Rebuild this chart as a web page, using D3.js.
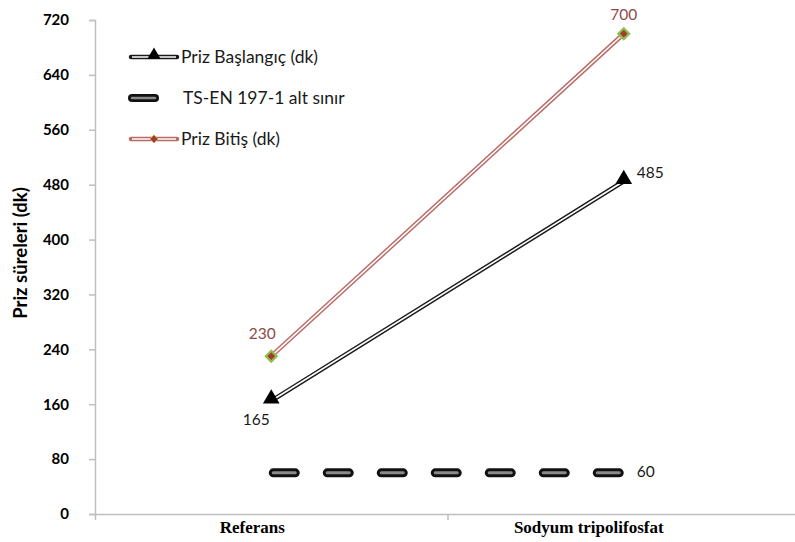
<!DOCTYPE html>
<html>
<head>
<meta charset="utf-8">
<script src="https://cdn.jsdelivr.net/npm/d3@7"></script>
<style>
  html, body { margin: 0; padding: 0; background: #fff; }
  svg { display: block; }
</style>
</head>
<body>
<svg id="chart" width="795" height="542"></svg>
<script>
// Setting time data (minutes)
const categories = ["Referans", "Sodyum tripolifosfat"];
const baslangic = [165, 485];          // Priz Başlangıç (dk)
const bitis = [230, 700];              // Priz Bitiş (dk)
const altSinir = [60, 60];             // TS-EN 197-1 alt sınır
const yTicks = [0, 80, 160, 240, 320, 400, 480, 560, 640, 720];
const seriesNames = ["Priz Başlangıç (dk)", "TS-EN 197-1 alt sınır", "Priz Bitiş (dk)"];
const yTitle = "Priz süreleri (dk)";

const svg = d3.select("#chart");
const plotLeft = 95, plotRight = 800, plotTop = 20, plotBottom = 514;

const x = d3.scalePoint().domain(categories).range([plotLeft, plotRight]).padding(0.5);
const y = d3.scaleLinear().domain([0, 720]).range([plotBottom, plotTop]);

const labelFont = "Lato, 'Open Sans', sans-serif";

// Y axis
const yAxis = svg.append("g")
  .attr("transform", `translate(${plotLeft},0)`)
  .call(d3.axisLeft(y).tickValues(yTicks).tickSize(6).tickPadding(20));
yAxis.select(".domain").attr("stroke", "#bfbfbf").attr("stroke-width", 1.5);
yAxis.selectAll(".tick line").attr("stroke", "#bfbfbf").attr("stroke-width", 1.5);
yAxis.selectAll(".tick text")
  .attr("font-family", labelFont).attr("font-weight", "bold")
  .attr("font-size", 15).attr("fill", "#000");

// X axis: baseline with a divider tick between categories
const xb = d3.scaleLinear().domain([0, categories.length]).range([plotLeft, plotRight]);
const xAxis = svg.append("g")
  .attr("transform", `translate(0,${plotBottom})`)
  .call(d3.axisBottom(xb).tickValues(d3.range(1, categories.length)).tickSize(6).tickFormat(""));
xAxis.select(".domain").attr("stroke", "#bfbfbf").attr("stroke-width", 1.5);
xAxis.selectAll(".tick line").attr("stroke", "#bfbfbf").attr("stroke-width", 1.5);

// Category labels
const catShift = [-19, -35];
svg.append("g").selectAll("text").data(categories).join("text")
  .attr("x", (d, i) => x(d) + catShift[i])
  .attr("y", 533)
  .attr("text-anchor", "middle")
  .attr("font-family", "'Liberation Serif', 'Times New Roman', serif")
  .attr("font-weight", "bold").attr("font-size", 17)
  .text(d => d);

// Y title
svg.append("text")
  .attr("transform", `translate(27,${(plotTop + plotBottom) / 2 - 14}) rotate(-90)`)
  .attr("text-anchor", "middle")
  .attr("font-family", labelFont).attr("font-weight", "bold").attr("font-size", 18.5)
  .text(yTitle);

const line = d3.line().x((d, i) => x(categories[i])).y(d => y(d));

// Lower limit: thick rounded dashes with a grey core
const limitPts = [[x(categories[0]) - 2, y(altSinir[0])], [x(categories[1]) - 4, y(altSinir[1])]];
[["#111", 9], ["#8a8a8a", 3]].forEach(([c, w]) => {
  svg.append("path").attr("d", d3.line()(limitPts))
    .attr("stroke", c).attr("stroke-width", w).attr("fill", "none")
    .attr("stroke-linecap", "round").attr("stroke-dasharray", "22 32")
    .attr("transform", "translate(4,0)");
});

// Double-stroke series lines
function doubleLine(data, outer) {
  svg.append("path").datum(data).attr("d", line)
    .attr("stroke", outer).attr("stroke-width", 4.5).attr("fill", "none");
  svg.append("path").datum(data).attr("d", line)
    .attr("stroke", "#fff").attr("stroke-width", 1.6).attr("fill", "none");
}
doubleLine(baslangic, "#1a1a1a");
doubleLine(bitis, "#b86a66");

// Markers
const tri = d3.symbol().type(d3.symbolTriangle).size(120);
svg.append("g").selectAll("path").data(baslangic).join("path")
  .attr("d", tri)
  .attr("transform", (d, i) => `translate(${x(categories[i])},${y(d) - 2})`)
  .attr("fill", "#000");

const dia = d3.symbol().type(d3.symbolDiamond2).size(75);
svg.append("g").selectAll("path").data(bitis).join("path")
  .attr("d", dia)
  .attr("transform", (d, i) => `translate(${x(categories[i])},${y(d)})`)
  .attr("fill", "#a33a36").attr("stroke", "#8fbf4a").attr("stroke-width", 2.2);

// Value labels
const addLabel = (txt, px, py, color, anchor) => svg.append("text")
  .attr("x", px).attr("y", py).attr("text-anchor", anchor || "middle")
  .attr("font-family", labelFont).attr("font-size", 15.5)
  .attr("fill", color).text(txt);

addLabel(bitis[0], x(categories[0]) - 9, y(bitis[0]) - 17, "#8b4a48");
addLabel(bitis[1], x(categories[1]), y(bitis[1]) - 14, "#8b4a48");
addLabel(baslangic[0], x(categories[0]) - 15, y(baslangic[0]) + 24, "#1a1a1a");
addLabel(baslangic[1], x(categories[1]) + 13, y(baslangic[1]) - 3, "#1a1a1a", "start");
addLabel(altSinir[1], x(categories[1]) + 13, y(altSinir[1]) + 4, "#1a1a1a", "start");

// Legend
const legY = [57, 98, 139];
const leg = svg.append("g");
// Priz Başlangıç
leg.append("line").attr("x1", 131).attr("x2", 177).attr("y1", legY[0]).attr("y2", legY[0])
  .attr("stroke", "#1a1a1a").attr("stroke-width", 4.5).attr("stroke-linecap", "round");
leg.append("line").attr("x1", 132).attr("x2", 176).attr("y1", legY[0]).attr("y2", legY[0])
  .attr("stroke", "#fff").attr("stroke-width", 1.6);
leg.append("path").attr("d", d3.symbol().type(d3.symbolTriangle).size(75))
  .attr("transform", `translate(154,${legY[0] - 2})`).attr("fill", "#000");
// Alt sınır
leg.append("line").attr("x1", 132).attr("x2", 155).attr("y1", legY[1]).attr("y2", legY[1])
  .attr("stroke", "#111").attr("stroke-width", 8).attr("stroke-linecap", "round");
leg.append("line").attr("x1", 132).attr("x2", 155).attr("y1", legY[1]).attr("y2", legY[1])
  .attr("stroke", "#8a8a8a").attr("stroke-width", 2.5).attr("stroke-linecap", "round");
// Priz Bitiş
leg.append("line").attr("x1", 131).attr("x2", 177).attr("y1", legY[2]).attr("y2", legY[2])
  .attr("stroke", "#b86a66").attr("stroke-width", 4.5).attr("stroke-linecap", "round");
leg.append("line").attr("x1", 132).attr("x2", 176).attr("y1", legY[2]).attr("y2", legY[2])
  .attr("stroke", "#fff").attr("stroke-width", 1.6);
leg.append("path").attr("d", d3.symbol().type(d3.symbolDiamond2).size(40))
  .attr("transform", `translate(154,${legY[2]})`)
  .attr("fill", "#a33a36").attr("stroke", "#c9a040").attr("stroke-width", 1);

leg.selectAll("text").data(seriesNames).join("text")
  .attr("x", (d, i) => i === 1 ? 183 : 181)
  .attr("y", (d, i) => legY[i] + 6)
  .attr("font-family", labelFont).attr("font-size", 17.5).attr("fill", "#1a1a1a")
  .text(d => d);
</script>
</body>
</html>
